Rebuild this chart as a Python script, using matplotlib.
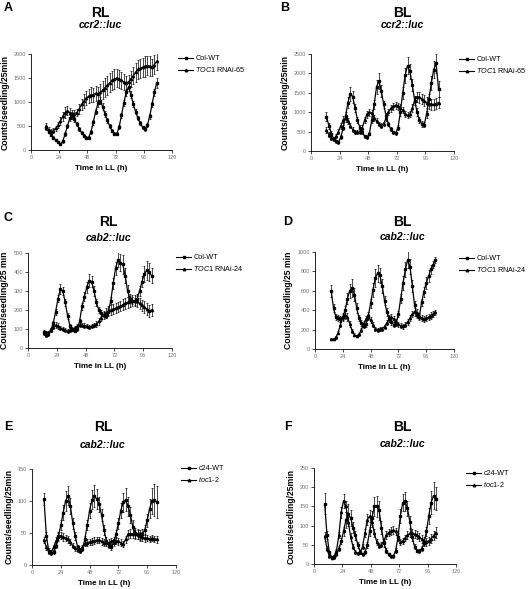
import numpy as np
import matplotlib
matplotlib.use('Agg')
import matplotlib.pyplot as plt
from matplotlib.lines import Line2D

plt.rcParams['font.family'] = ['Liberation Sans', 'DejaVu Sans']
plt.rcParams['mathtext.fontset'] = 'custom'
plt.rcParams['mathtext.rm'] = 'Liberation Sans'
plt.rcParams['mathtext.it'] = 'Liberation Sans:italic'
plt.rcParams['mathtext.bf'] = 'Liberation Sans:bold'

# ---- data (h in LL, counts/seedling/25 min) ----
t_a = [13, 15, 17, 19, 21, 23, 25, 27, 29, 31, 33, 35, 37, 39, 41, 43, 45, 47, 49, 51,
       53, 55, 57, 59, 61, 63, 65, 67, 69, 71, 73, 75, 77, 79, 81, 83, 85, 87, 89, 91,
       93, 95, 97, 99, 101, 103, 105, 107]
wt_a = [450, 380, 320, 260, 210, 170, 120, 180, 330, 500, 660, 720, 640, 540, 440, 360, 300, 255, 260, 380,
        580, 800, 970, 1030, 900, 750, 620, 500, 400, 340, 340, 480, 720, 980, 1200, 1310, 1150, 960, 800, 660,
        560, 470, 440, 520, 700, 950, 1200, 1400]
err_wt_a = [40, 35, 30, 30, 25, 25, 20, 25, 35, 45, 60, 70, 60, 50, 40, 35, 30, 30, 30, 40,
            50, 60, 70, 80, 70, 60, 50, 40, 35, 30, 30, 40, 50, 60, 70, 80, 70, 60, 50, 40,
            35, 35, 35, 40, 50, 60, 80, 100]
mut_a = [500, 420, 380, 400, 450, 520, 600, 700, 780, 820, 780, 760, 760, 780, 850, 950, 1020, 1080, 1120, 1150,
         1150, 1180, 1170, 1200, 1250, 1300, 1350, 1400, 1450, 1480, 1500, 1480, 1450, 1420, 1400, 1420, 1480, 1550, 1620, 1680,
         1700, 1720, 1740, 1760, 1750, 1720, 1780, 1850]
err_mut_a = [60, 60, 50, 50, 60, 70, 80, 90, 120, 100, 90, 80, 80, 80, 100, 120, 150, 140, 150, 160,
             150, 160, 150, 170, 180, 200, 200, 200, 190, 200, 180, 180, 170, 160, 150, 150, 160, 180, 200, 200,
             200, 200, 210, 200, 200, 180, 200, 180]

t_b = t_a
wt_b = [885, 650, 450, 320, 250, 220, 350, 600, 900, 1250, 1480, 1400, 1100, 800, 600, 480, 380, 350, 450, 800,
        1200, 1650, 1800, 1550, 1200, 900, 700, 560, 480, 460, 600, 1000, 1500, 1950, 2200, 2050, 1700, 1300, 1000, 800,
        700, 680, 950, 1350, 1750, 2100, 2260, 1600]
err_wt_b = [120, 80, 60, 50, 40, 40, 50, 70, 100, 150, 180, 150, 100, 80, 60, 50, 40, 40, 50, 80,
            120, 180, 200, 150, 100, 80, 60, 50, 40, 40, 60, 100, 150, 200, 220, 200, 150, 120, 100, 80,
            70, 70, 90, 120, 180, 220, 250, 200]
mut_b = [540, 420, 330, 300, 380, 500, 650, 800, 840, 780, 650, 550, 500, 480, 500, 600, 800, 950, 1000, 980,
         850, 780, 700, 650, 700, 850, 1000, 1100, 1150, 1180, 1150, 1120, 1050, 950, 920, 950, 1100, 1300, 1400, 1380,
         1350, 1300, 1250, 1220, 1200, 1200, 1220, 1250]
err_mut_b = [80, 60, 50, 40, 50, 60, 80, 90, 80, 80, 70, 60, 50, 50, 60, 70, 80, 90, 90, 80,
             80, 70, 60, 60, 60, 70, 80, 90, 90, 90, 90, 80, 80, 80, 80, 80, 100, 120, 130, 130,
             130, 140, 140, 150, 150, 140, 140, 150]

t_c = [13, 15, 17, 19, 21, 23, 25, 27, 29, 31, 33, 35, 37, 39, 41, 43, 45, 47, 49, 51,
       53, 55, 57, 59, 61, 63, 65, 67, 69, 71, 73, 75, 77, 79, 81, 83, 85, 87, 89, 91,
       93, 95, 97, 99, 101, 103]
wt_c = [85, 80, 80, 95, 130, 190, 260, 310, 300, 240, 170, 115, 95, 90, 100, 140, 220, 270, 320, 355,
        350, 300, 240, 200, 185, 175, 168, 190, 250, 340, 420, 465, 450, 440, 380, 300, 260, 250, 245, 260,
        300, 350, 390, 410, 400, 380]
err_wt_c = [12, 10, 10, 10, 12, 15, 20, 25, 22, 18, 15, 10, 8, 8, 10, 12, 18, 25, 30, 35,
            30, 25, 20, 15, 15, 12, 12, 15, 20, 30, 35, 40, 45, 50, 40, 30, 25, 20, 20, 22,
            25, 30, 40, 50, 45, 40]
mut_c = [80, 70, 75, 95, 110, 120, 115, 105, 100, 95, 90, 95, 100, 105, 115, 120, 120, 118, 115, 110,
         115, 120, 125, 140, 160, 175, 185, 195, 200, 205, 210, 215, 220, 228, 235, 240, 245, 250, 250, 245,
         235, 225, 215, 205, 195, 200]
err_mut_c = [10, 10, 10, 10, 12, 15, 15, 12, 10, 10, 10, 10, 10, 10, 12, 12, 12, 12, 12, 12,
             12, 12, 15, 18, 20, 22, 25, 25, 25, 25, 25, 25, 25, 28, 28, 30, 30, 30, 30, 30,
             30, 30, 30, 30, 30, 30]

t_d = [14, 16, 18, 20, 22, 24, 26, 28, 30, 32, 34, 36, 38, 40, 42, 44, 46, 48, 50, 52,
       54, 56, 58, 60, 62, 64, 66, 68, 70, 72, 74, 76, 78, 80, 82, 84, 86, 88, 90, 92,
       94, 96, 98, 100, 102, 104]
wt_d = [595, 420, 330, 320, 310, 330, 400, 520, 600, 630, 560, 420, 320, 270, 240, 260, 340, 470, 610, 730,
        780, 760, 650, 500, 380, 320, 280, 250, 260, 360, 520, 680, 820, 920, 850, 650, 450, 350, 330, 480,
        590, 680, 750, 820, 870, 920]
err_wt_d = [60, 40, 35, 30, 30, 35, 45, 55, 70, 90, 70, 50, 35, 30, 25, 30, 40, 50, 70, 90,
            90, 80, 70, 50, 40, 35, 30, 25, 25, 35, 50, 70, 80, 90, 80, 60, 45, 35, 30, 40,
            50, 60, 60, 50, 40, 30]
mut_d = [100, 100, 120, 170, 250, 330, 355, 330, 260, 190, 145, 135, 150, 200, 260, 310, 335, 300, 250, 210,
         200, 205, 210, 230, 270, 310, 330, 310, 280, 255, 240, 235, 250, 280, 320, 360, 385, 370, 340, 320,
         310, 320, 330, 345, 360, 380]
err_mut_d = [10, 10, 12, 15, 25, 40, 50, 40, 30, 20, 15, 12, 15, 20, 25, 30, 30, 30, 25, 20,
             20, 20, 20, 22, 25, 30, 30, 30, 28, 25, 25, 25, 25, 28, 30, 35, 40, 40, 35, 35,
             35, 35, 35, 35, 30, 25]

t_e = [10, 12, 14, 16, 18, 20, 22, 24, 26, 28, 30, 32, 34, 36, 38, 40, 42, 44, 46, 48,
       50, 52, 54, 56, 58, 60, 62, 64, 66, 68, 70, 72, 74, 76, 78, 80, 82, 84, 86, 88,
       90, 92, 94, 96, 98, 100, 102, 104]
wt_e = [103, 45, 22, 18, 20, 30, 45, 62, 82, 100, 108, 92, 65, 45, 28, 22, 25, 40, 62, 85,
        102, 108, 103, 95, 78, 55, 38, 30, 28, 35, 48, 65, 85, 98, 102, 92, 78, 60, 50, 48,
        46, 48, 55, 70, 88, 100, 102, 98]
err_wt_e = [10, 6, 4, 3, 3, 4, 6, 8, 12, 15, 15, 12, 8, 6, 4, 3, 3, 5, 8, 12,
            15, 17, 15, 12, 10, 8, 5, 4, 4, 5, 6, 8, 12, 15, 18, 15, 12, 10, 8, 8,
            8, 8, 8, 10, 15, 20, 25, 25]
mut_e = [39, 28, 20, 20, 28, 38, 44, 46, 44, 42, 40, 36, 30, 26, 23, 23, 28, 33, 35, 36,
         37, 38, 39, 39, 37, 35, 34, 35, 37, 39, 38, 37, 35, 33, 40, 48, 49, 49, 48, 47,
         45, 44, 42, 42, 41, 42, 41, 40]
err_mut_e = [5, 4, 3, 3, 4, 5, 6, 6, 6, 5, 5, 5, 4, 4, 3, 3, 4, 4, 5, 5,
             5, 5, 5, 5, 5, 5, 5, 5, 5, 5, 5, 5, 5, 5, 6, 7, 7, 7, 7, 7,
             6, 6, 6, 5, 5, 5, 5, 5]

t_f = [9, 11, 13, 15, 17, 19, 21, 23, 25, 27, 29, 31, 33, 35, 37, 39, 41, 43, 45, 47,
       49, 51, 53, 55, 57, 59, 61, 63, 65, 67, 69, 71, 73, 75, 77, 79, 81, 83, 85, 87,
       89, 91, 93, 95, 97, 99, 101, 103]
wt_f = [157, 75, 30, 18, 18, 25, 40, 60, 85, 115, 130, 120, 95, 75, 50, 32, 25, 30, 50, 85,
        120, 150, 150, 140, 95, 55, 35, 25, 20, 20, 35, 70, 125, 160, 163, 145, 110, 70, 45, 35,
        33, 40, 55, 85, 125, 160, 178, 170]
err_wt_f = [28, 10, 5, 4, 4, 5, 6, 8, 12, 20, 25, 20, 15, 12, 8, 5, 4, 5, 8, 12,
            18, 25, 28, 25, 18, 10, 6, 4, 4, 4, 6, 10, 18, 22, 25, 20, 15, 10, 6, 5,
            5, 6, 8, 12, 20, 30, 35, 30]
mut_f = [72, 40, 20, 16, 20, 35, 75, 135, 165, 150, 110, 70, 45, 32, 28, 30, 45, 80, 115, 125,
         110, 80, 58, 48, 50, 60, 75, 82, 86, 88, 85, 70, 58, 60, 68, 75, 80, 80, 78, 75,
         70, 65, 60, 58, 60, 66, 74, 82]
err_mut_f = [12, 6, 4, 3, 4, 5, 8, 14, 18, 15, 12, 10, 6, 5, 4, 4, 6, 10, 14, 15,
             14, 10, 8, 6, 6, 8, 10, 10, 10, 10, 10, 8, 8, 8, 8, 10, 10, 10, 10, 10,
             10, 10, 10, 10, 10, 12, 12, 15]

panel_letters = ['A', 'B', 'C', 'D', 'E', 'F']
light = ['RL', 'BL', 'RL', 'BL', 'RL', 'BL']
reporters = ['ccr2::luc', 'ccr2::luc', 'cab2::luc', 'cab2::luc', 'cab2::luc', 'cab2::luc']
wt_names = ['Col-WT', 'Col-WT', 'Col-WT', 'Col-WT', 'c24-WT', 'c24-WT']
mut_names = [r'$\mathit{TOC1}$ RNAi-65', r'$\mathit{TOC1}$ RNAi-65', r'$\mathit{TOC1}$ RNAi-24',
             r'$\mathit{TOC1}$ RNAi-24', r'$\mathit{toc1}$-2', r'$\mathit{toc1}$-2']
ylabels = ['Counts/seedling/25min', 'Counts/seedling/25min', 'Counts/seedling/25 min',
           'Counts/seedling/25 min', 'Counts/seedling/25min', 'Counts/seedling/25min']
ymax = [2000, 2500, 500, 1000, 150, 250]
ystep = [500, 500, 100, 200, 50, 50]
xticks = [0, 24, 48, 72, 96, 120]

W, H = 531, 589
fig = plt.figure(figsize=(W / 100, H / 100), dpi=100)


def px_axes(left, top, right, bottom):
    return fig.add_axes([left / W, 1 - bottom / H, (right - left) / W, (bottom - top) / H])


# axes boxes in pixels: left, top, right, bottom
boxes = [(31, 54, 172, 150), (311, 54, 454, 151),
         (28, 253, 172, 348), (315, 252, 454, 349),
         (32, 469, 176, 565), (314, 468, 456, 564)]
# title anchors (x centre, y of light label, y of reporter), letter pos, legend pos
title_pos = [(100, 13, 25), (402, 13, 25), (108, 222, 238), (402, 222, 237), (103, 427, 445), (402, 427, 444)]
letter_pos = [(4, 8), (280, 8), (3, 218), (283, 222), (4, 427), (284, 427)]
legend_pos = [(178, 55), (459, 56), (176, 254), (459, 255), (181, 465), (466, 470)]

data = [(t_a, wt_a, err_wt_a, mut_a, err_mut_a), (t_b, wt_b, err_wt_b, mut_b, err_mut_b),
        (t_c, wt_c, err_wt_c, mut_c, err_mut_c), (t_d, wt_d, err_wt_d, mut_d, err_mut_d),
        (t_e, wt_e, err_wt_e, mut_e, err_mut_e), (t_f, wt_f, err_wt_f, mut_f, err_mut_f)]

style = dict(color='black', lw=0.9, ms=1.6, elinewidth=0.5, capsize=0.9, capthick=0.5)

for i in range(6):
    t, wt, ewt, mut, emut = data[i]
    ax = px_axes(*boxes[i])
    ax.errorbar(t, mut, yerr=emut, marker='^', **style)
    ax.errorbar(t, wt, yerr=ewt, marker='s', **style)
    ax.set_xlim(0, 120)
    ax.set_ylim(0, ymax[i])
    ax.set_xticks(xticks)
    ax.set_yticks(np.arange(0, ymax[i] + 1, ystep[i]))
    for s in ['top', 'right']:
        ax.spines[s].set_visible(False)
    for s in ['left', 'bottom']:
        ax.spines[s].set_linewidth(0.6)
    ax.tick_params(labelsize=4, length=2, width=0.5, pad=1.5, labelcolor='#707070')
    ax.set_xlabel('Time in LL (h)', fontsize=5.8, fontweight='bold', labelpad=4)
    ax.set_ylabel(ylabels[i], fontsize=6.2, fontweight='bold', labelpad=3)

    cx, y1, y2 = title_pos[i]
    fig.text(cx / W, 1 - y1 / H, light[i], fontsize=10, fontweight='bold', ha='center', va='center')
    fig.text(cx / W, 1 - y2 / H, reporters[i], fontsize=7.5, fontweight='bold', fontstyle='italic',
             ha='center', va='center')
    lx, ly = letter_pos[i]
    fig.text(lx / W, 1 - ly / H, panel_letters[i], fontsize=9, fontweight='bold', ha='left', va='center')

    handles = [Line2D([], [], color='black', lw=0.8, marker='s', ms=1.8),
               Line2D([], [], color='black', lw=0.8, marker='^', ms=1.8)]
    gx, gy = legend_pos[i]
    ax.legend(handles, [wt_names[i], mut_names[i]], loc='upper left',
              bbox_to_anchor=(gx / W, 1 - gy / H), bbox_transform=fig.transFigure,
              frameon=False, fontsize=5.2, handlelength=2.1, handletextpad=0.3,
              labelspacing=0.45, borderpad=0, borderaxespad=0, numpoints=1)

fig.savefig('out.png', dpi=100)
